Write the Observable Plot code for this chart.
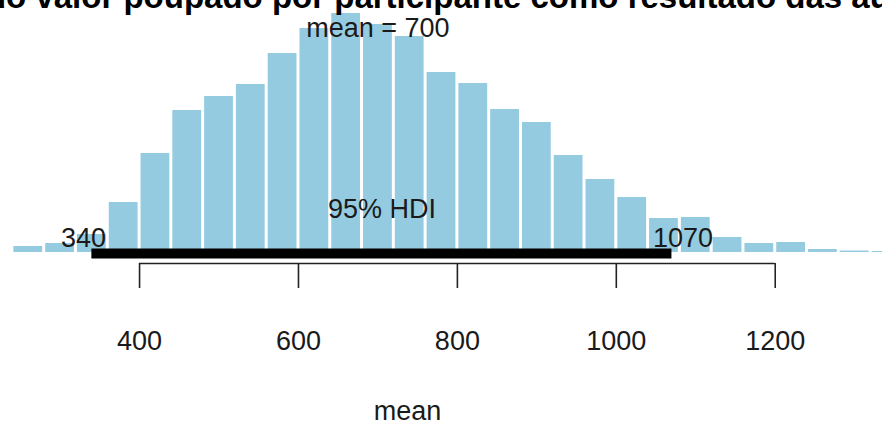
<!DOCTYPE html>
<html>
<head>
<meta charset="utf-8">
<script src="https://cdn.jsdelivr.net/npm/d3@7"></script>
<script src="https://cdn.jsdelivr.net/npm/@observablehq/plot@0.6"></script>
<style>
  html, body { margin: 0; padding: 0; background: #fff; overflow: hidden; }
  #chart svg { display: block; }
  #chart g[aria-label="x-axis"] line, #chart g[aria-label="x-axis tick"] path { stroke-width: 1.6px; stroke: #222; }
</style>
</head>
<body>
<div id="chart"></div>
<script>
// ---- data ----
const title = "Média do valor poupado por participante como resultado das aulas";
const xLabel = "mean";
const binEdges = [240, 280, 320, 360, 400, 440, 480, 520, 560, 600, 640, 680, 720, 760, 800,
                  840, 880, 920, 960, 1000, 1040, 1080, 1120, 1160, 1200, 1240, 1280, 1320, 1360];
const binHeights = [6, 9, 18, 50, 99, 142, 156, 168, 199, 224, 239, 228, 216, 180, 169,
                    143, 130, 97, 73, 55, 34, 35, 15, 9, 10, 3, 1.5, 1];
const meanValue = 700;
const hdi = [340, 1070];
const hdiLabel = "95% HDI";
const xTicks = [400, 600, 800, 1000, 1200];
const xDomain = [225, 1335];
const yDomain = [-11, 252];

const bins = binHeights.map((h, i) => ({x1: binEdges[i], x2: binEdges[i + 1], h}));
const font = "'Liberation Sans', Arial, Helvetica, sans-serif";
const fs = 27;

const plot = Plot.plot({
  width: 882,
  height: 424,
  marginTop: 0,
  marginLeft: 0,
  marginRight: 0,
  marginBottom: 161,
  style: {fontFamily: font, fontSize: fs + "px", color: "#1a1a1a", background: "#fff", overflow: "visible"},
  x: {domain: xDomain, ticks: xTicks, tickSize: 25, tickPadding: 42, tickFormat: d => String(d), label: null},
  y: {domain: yDomain, axis: null},
  marks: [
    Plot.rectY(bins, {x1: "x1", x2: "x2", y1: 0, y2: "h", fill: "#95CBE0", insetLeft: 1.5, insetRight: 1.5}),
    Plot.ruleY([0], {x1: hdi[0], x2: hdi[1], stroke: "#000", strokeWidth: 10, dy: 1}),
    Plot.ruleY([yDomain[0]], {x1: xTicks[0], x2: xTicks[xTicks.length - 1], stroke: "#222", strokeWidth: 1.6}),
    Plot.text([`mean = ${meanValue}`], {x: meanValue, frameAnchor: "top", lineAnchor: "bottom", dy: 36, text: d => d, fontSize: fs, fill: "#1a1a1a"}),
    Plot.text([hdiLabel], {x: (hdi[0] + hdi[1]) / 2, y: 0, lineAnchor: "bottom", dy: -35, text: d => d, fontSize: fs, fill: "#1a1a1a"}),
    Plot.text([hdi[0]], {x: d => d, y: 0, text: d => String(d), textAnchor: "start", dx: -31, lineAnchor: "bottom", dy: -6, fontSize: fs, fill: "#1a1a1a"}),
    Plot.text([hdi[1]], {x: d => d, y: 0, text: d => String(d), textAnchor: "start", dx: -19, lineAnchor: "bottom", dy: -6, fontSize: fs, fill: "#1a1a1a"}),
    Plot.text([title], {frameAnchor: "top", lineAnchor: "bottom", dy: 7, dx: -32, text: d => d, fontSize: 33, fontWeight: "bold", fill: "#000"}),
    Plot.text([xLabel], {frameAnchor: "bottom", lineAnchor: "bottom", dy: 156, dx: -34, text: d => d, fontSize: fs, fill: "#1a1a1a"})
  ]
});
document.getElementById("chart").appendChild(plot);
</script>
</body>
</html>
